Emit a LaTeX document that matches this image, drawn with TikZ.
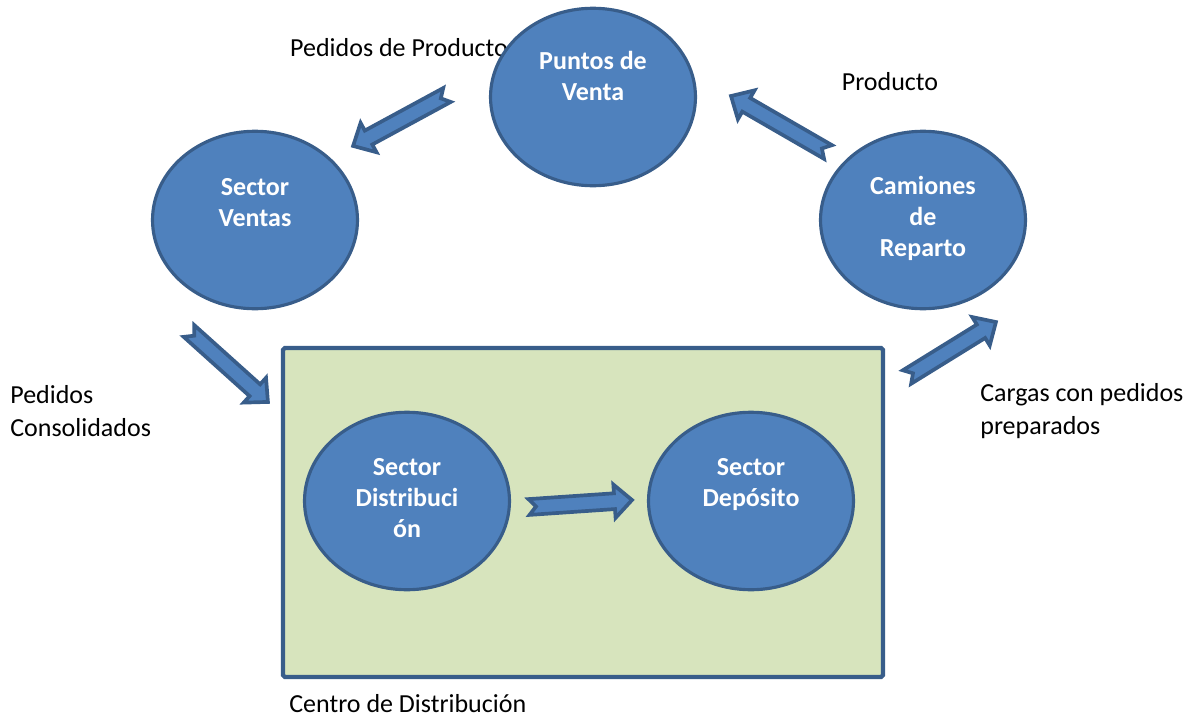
\documentclass[tikz,border=0pt]{standalone}
\usepackage{fontspec}
\setmainfont{Carlito}
\usepackage{tikz}
\usetikzlibrary{shapes.geometric,calc}

\definecolor{nodeblue}{HTML}{4F81BD}
\definecolor{edgeblue}{HTML}{385D8A}
\definecolor{boxgreen}{HTML}{D7E4BD}

\tikzset{
  proc/.style={ellipse, draw=edgeblue, fill=nodeblue, line width=1.8pt,
    minimum width=4.1cm, minimum height=3.55cm, inner sep=0pt},
  ptext/.style={text=white, font=\fontsize{14.8}{17.6}\selectfont\bfseries,
    align=center, inner sep=0pt},
  lbl/.style={font=\fontsize{14.8}{18.8}\selectfont, align=left, inner sep=0pt},
  barrow/.style={draw=edgeblue, fill=nodeblue, line width=2.1pt, line join=miter},
}

% notched block arrow from #1 to #2
\newcommand{\notcharrow}[2]{%
  \draw[barrow] let \p1=($(#2)-(#1)$), \n1={atan2(\y1,\x1)}, \n2={veclen(\x1,\y1)} in
    [shift={(#1)}, rotate=\n1]
    (0pt,-4.5pt) -- ({\n2*1pt-10pt},-4.5pt) -- ({\n2*1pt-10pt},-9.5pt) -- ({\n2*1pt},0pt)
    -- ({\n2*1pt-10pt},9.5pt) -- ({\n2*1pt-10pt},4.5pt) -- (0pt,4.5pt) -- (4pt,0pt) -- cycle;}

\begin{document}
\begin{tikzpicture}[x=0.02cm, y=-0.02cm]
    \useasboundingbox (0,0) rectangle (1198,717);

    % labels
    \node[lbl] (pedprod) at (399,48) {Pedidos de Producto};
    \node[lbl] (prod)    at (890,82) {Producto};
    \node[lbl, anchor=west] (pedcons) at (10,411) {Pedidos\\Consolidados};
    \node[lbl, anchor=west] (cargas)  at (980,411) {Cargas con pedidos\\preparados};
    \node[lbl, anchor=west] (cdtext)  at (289,704) {Centro de Distribución};

    % centro de distribucion
    \node[draw=edgeblue, fill=boxgreen, line width=2.4pt, rounded corners=1pt,
          minimum width=12cm, minimum height=6.58cm, inner sep=0pt] (centro) at (583,512.5) {};

    % procesos
    \node[proc] (puntos)   at (593,97)  {};
    \node[proc] (ventas)   at (255,220) {};
    \node[proc] (camiones) at (923,220) {};
    \node[proc] (distrib)  at (407,501) {};
    \node[proc] (deposito) at (751,501) {};

    \node[ptext] (puntos-t)   at ([yshift=0.42cm]puntos.center)  {Puntos de\\Venta};
    \node[ptext] (ventas-t)   at ([yshift=0.35cm]ventas.center)  {Sector\\Ventas};
    \node[ptext] (camiones-t) at ([yshift=0.03cm]camiones.center) {Camiones\\de\\Reparto};
    \node[ptext] (distrib-t)  at ([yshift=0.06cm]distrib.center) {Sector\\Distribuci\\ón};
    \node[ptext] (deposito-t) at ([yshift=0.33cm]deposito.center) {Sector\\Depósito};

    % flechas
    \coordinate (a1s) at (447,95);  \coordinate (a1e) at (353,146);
    \coordinate (a2s) at (828,152); \coordinate (a2e) at (731,96);
    \coordinate (a3s) at (189,331); \coordinate (a3e) at (268,402);
    \coordinate (a4s) at (907,377); \coordinate (a4e) at (996,322);
    \coordinate (a5s) at (529,507); \coordinate (a5e) at (632,500);

    \notcharrow{a1s}{a1e}
    \notcharrow{a2s}{a2e}
    \notcharrow{a3s}{a3e}
    \notcharrow{a4s}{a4e}
    \notcharrow{a5s}{a5e}
\end{tikzpicture}
\end{document}
